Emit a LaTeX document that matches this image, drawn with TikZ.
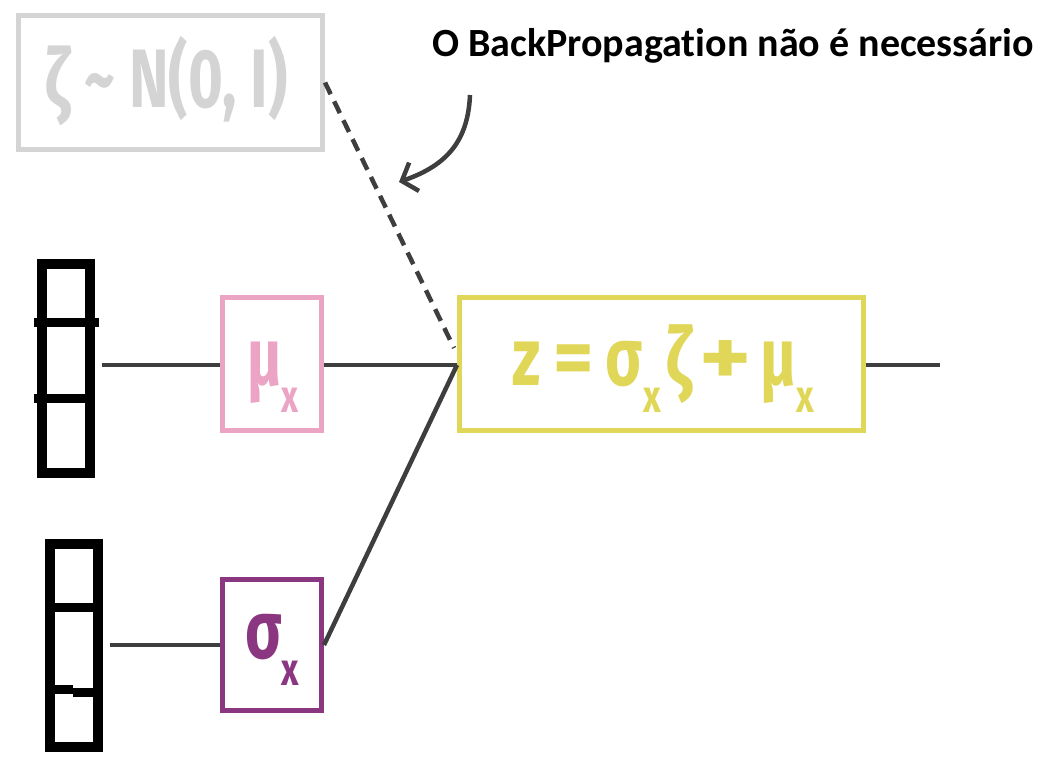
\documentclass[tikz,border=0pt]{standalone}
\usepackage{fontspec}
\setmainfont{Carlito}[Ligatures=NoCommon]
\newfontfamily\cond{Fira Sans}
\usetikzlibrary{arrows.meta,calc}
\definecolor{wire}{RGB}{62,62,62}
\definecolor{noisegray}{RGB}{212,212,212}
\definecolor{mupink}{RGB}{236,164,196}
\definecolor{sigpurple}{RGB}{139,54,128}
\definecolor{zyellow}{RGB}{224,214,88}
\newcommand\subx{\raisebox{-27pt}{\fontsize{46}{46}\selectfont x}}
\newcommand\sq[2][0.75]{\scalebox{#1}[1]{#2}}
\begin{document}
\begin{tikzpicture}[x=1pt,y=-1pt,
  vec/.style={draw=black, line width=10pt, minimum width=48pt, inner sep=0pt},
  cell/.style={draw=black, line width=9pt},
  box/.style={line width=5pt, inner sep=0pt, minimum width=99pt},
  wire/.style={draw=wire, line width=4.5pt},
  greek/.style={anchor=base west, inner sep=0pt, font=\cond\bfseries\fontsize{82}{82}\selectfont},
]
\useasboundingbox (0,0) rectangle (1043,757);

% input vectors
\node[vec, minimum height=209pt] (v1) at (66,368.5) {};
\draw[cell] (34,322) -- (99,322);
\draw[cell] (34,398) -- (95,398);
\node[vec, minimum height=203pt] (v2) at (74,645.5) {};
\draw[cell] (45,607) -- (103,607);
\draw[cell] (45,689) -- (73,689);
\draw[cell] (73,692) -- (103,692);

% boxes
\node[box, draw=noisegray, minimum width=304pt, minimum height=134pt] (noise) at (170.5,82.5) {};
\node[box, draw=mupink, minimum height=133pt] (mu) at (272,364) {};
\node[box, draw=sigpurple, minimum height=131pt] (sig) at (272,645) {};
\node[box, draw=zyellow, minimum width=404pt, minimum height=133pt] (z) at (661.5,364) {};

% box texts
\node[greek, text=noisegray] (noiset) at (45,107) {\fontsize{83}{83}\selectfont\sq[0.72]{ζ \textasciitilde{} N(0, I)}};
\node[greek, text=mupink] (mut) at (247,385) {\sq[0.72]{μ\subx}};
\node[greek, text=sigpurple] (sigt) at (245,658) {\sq[0.74]{σ\subx}};
\node[greek, text=zyellow] (zt) at (512,385) {\sq{z}\hspace{13pt}\sq[0.95]{=}\hspace{12pt}\sq{σ}\hspace{1pt}\sq{\subx}\hspace{5pt}\sq{ζ}\hspace{7pt}\sq[1.2]{+}\hspace{9pt}\sq{μ}\sq{\subx}};

% connectors
\coordinate (join) at ($(z.west)+(0,1)$);
\coordinate (out) at (940,365);
\draw[wire, shorten <=7pt] (v1.east |- 0,365) -- (mu.west |- 0,365);
\draw[wire, shorten <=7pt] (v2.east |- 0,645) -- (sig.west |- 0,645);
\draw[wire] (mu.east |- 0,365) -- (join);
\draw[wire] (sig.east) -- (join);
\draw[wire] (z.east |- 0,365) -- (out);
\draw[wire, line width=4.5pt, dash pattern=on 13pt off 8pt] (noise.east) -- ($(z.west)+(-3,-16)$);

% annotation
\node[anchor=base west, inner sep=0pt, font=\bfseries\fontsize{40}{40}\selectfont] (note) at (432,57) {O BackPropagation não é necessário};
\coordinate (a0) at (470,95);
\coordinate (a1) at (399,182);
\draw[wire, line width=4.5pt, -{Straight Barb[length=13pt,width=30pt]}] (a0) .. controls (468,140) and (448,165) .. (a1);
\end{tikzpicture}
\end{document}
